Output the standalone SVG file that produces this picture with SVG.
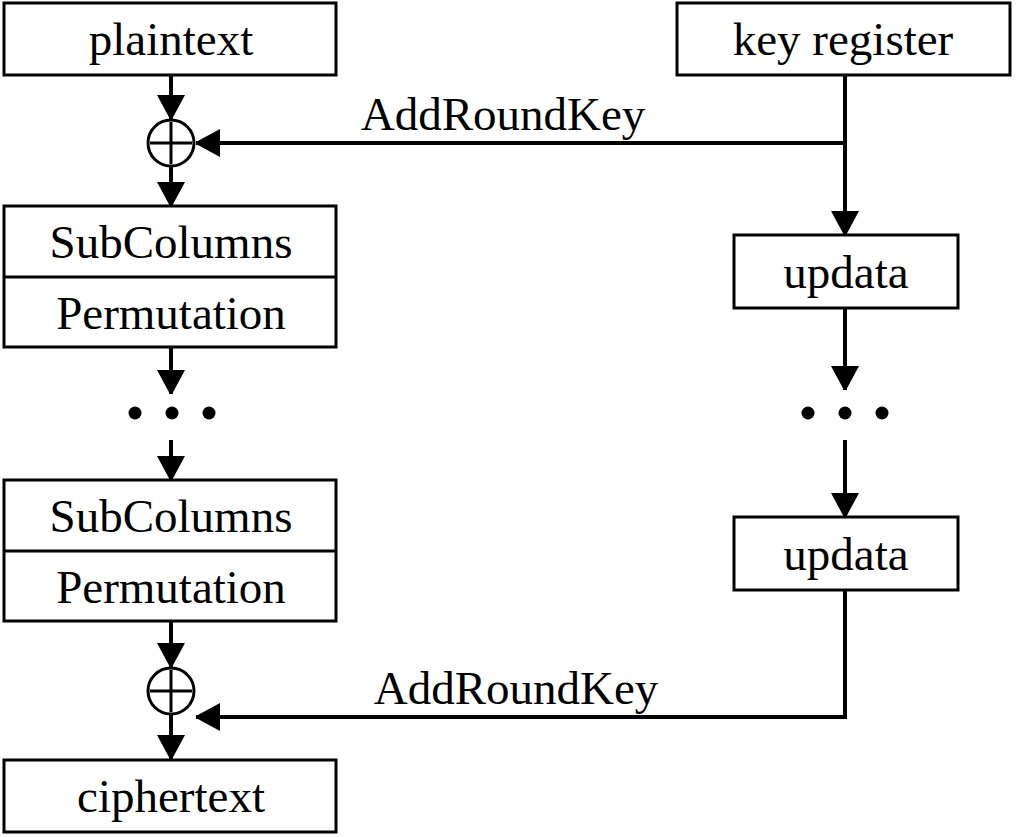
<svg xmlns="http://www.w3.org/2000/svg" width="1016" height="837" viewBox="0 0 1016 837">
<style>
rect{fill:#fff;stroke:#000;stroke-width:3}
line,path.c{stroke:#000;stroke-width:4;fill:none}
text{font-family:"Liberation Serif",serif;font-size:47px;text-anchor:middle;fill:#000}
.d{fill:#000}
</style>
<defs><marker id="a" markerWidth="6" markerHeight="7" refX="6" refY="3.5" orient="auto" markerUnits="strokeWidth"><path d="M0,0L6.5,3.5L0,7z" fill="#000"/></marker></defs>
<rect width="1016" height="837" style="fill:#fff;stroke:none"/>
<g id="connectors">
<line x1="171" y1="75" x2="171" y2="119" marker-end="url(#a)"/>
<line x1="171" y1="166" x2="171" y2="206" marker-end="url(#a)"/>
<line x1="171" y1="347" x2="171" y2="394" marker-end="url(#a)"/>
<line x1="171" y1="440" x2="171" y2="480" marker-end="url(#a)"/>
<line x1="171" y1="621" x2="171" y2="667" marker-end="url(#a)"/>
<line x1="171" y1="714" x2="171" y2="759" marker-end="url(#a)"/>
<line x1="845" y1="75" x2="845" y2="235" marker-end="url(#a)"/>
<path class="c" d="M845,143H196" marker-end="url(#a)"/>
<line x1="845" y1="308" x2="845" y2="390" marker-end="url(#a)"/>
<line x1="845" y1="440" x2="845" y2="517" marker-end="url(#a)"/>
<path class="c" d="M845,590V717H196" marker-end="url(#a)"/>
<text x="503" y="130">AddRoundKey</text>
<text x="516" y="704">AddRoundKey</text>
</g>
<g id="plaintext"><rect x="4" y="3" width="332" height="72"/><text x="171" y="55">plaintext</text></g>
<g id="xor1"><circle cx="171" cy="143" r="23" fill="#fff" stroke="#000" stroke-width="3"/><path d="M150,143H192M171,122V164" stroke="#000" stroke-width="3"/></g>
<g id="round1"><rect x="4" y="206" width="332" height="141"/><line x1="4" y1="277" x2="336" y2="277" style="stroke-width:3"/><text x="171" y="258">SubColumns</text><text x="171" y="329">Permutation</text></g>
<g id="dots1"><circle class="d" cx="135" cy="413" r="6.5"/><circle class="d" cx="172" cy="413" r="6.5"/><circle class="d" cx="209" cy="413" r="6.5"/></g>
<g id="round2"><rect x="4" y="480" width="332" height="141"/><line x1="4" y1="551" x2="336" y2="551" style="stroke-width:3"/><text x="171" y="532">SubColumns</text><text x="171" y="603">Permutation</text></g>
<g id="xor2"><circle cx="171" cy="691" r="23" fill="#fff" stroke="#000" stroke-width="3"/><path d="M150,691H192M171,670V712" stroke="#000" stroke-width="3"/></g>
<g id="ciphertext"><rect x="4" y="760" width="332" height="72"/><text x="171" y="812">ciphertext</text></g>
<g id="keyreg"><rect x="677" y="3" width="333" height="72"/><text x="843" y="55">key register</text></g>
<g id="updata1"><rect x="734" y="235" width="224" height="73"/><text x="846" y="288">updata</text></g>
<g id="dots2"><circle class="d" cx="808" cy="413" r="6.5"/><circle class="d" cx="845" cy="413" r="6.5"/><circle class="d" cx="882" cy="413" r="6.5"/></g>
<g id="updata2"><rect x="734" y="517" width="224" height="73"/><text x="846" y="570">updata</text></g>
</svg>
